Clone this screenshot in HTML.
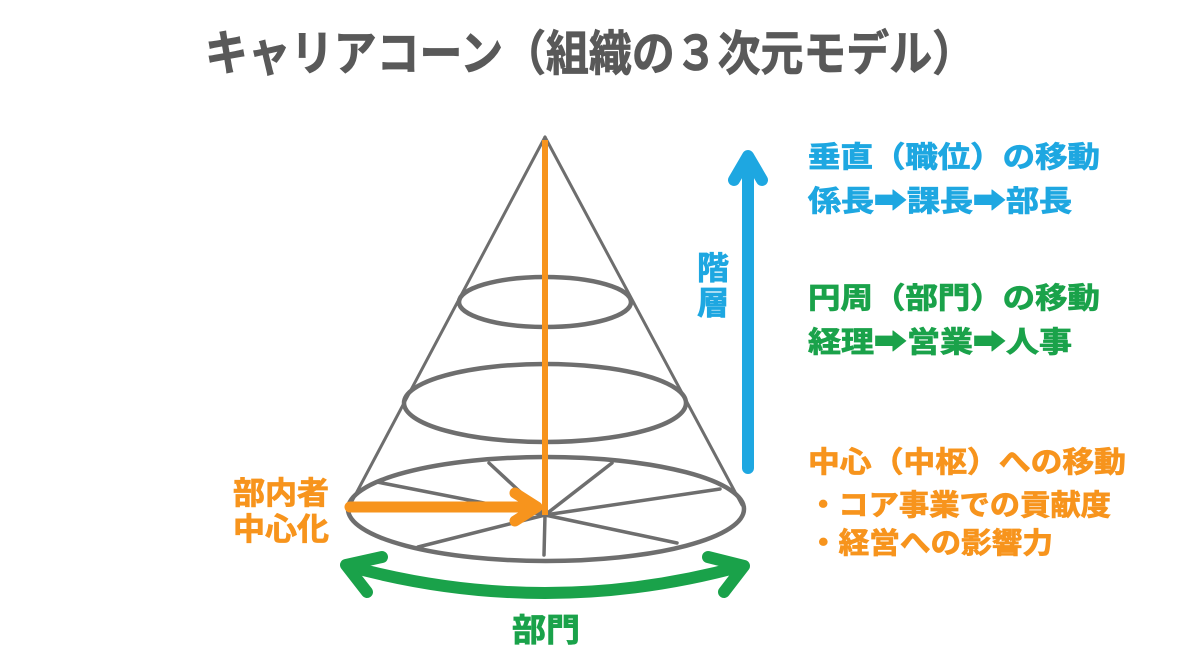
<!DOCTYPE html>
<html><head><meta charset="utf-8"><style>
html,body{margin:0;padding:0;background:#fff;width:1200px;height:666px;overflow:hidden}
svg text{font-family:"Liberation Sans","Noto Sans CJK JP",sans-serif;font-weight:bold;stroke-width:0.8}
</style></head><body>
<svg width="1200" height="666" viewBox="0 0 1200 666" xmlns="http://www.w3.org/2000/svg">
<text x="205" y="70" font-size="48" fill="#595959" stroke="#595959" stroke-width="1.2" textLength="770" lengthAdjust="spacingAndGlyphs">キャリアコーン（組織の３次元モデル）</text>

<g fill="none" stroke="#6e6e6e" stroke-linecap="round">
<line x1="545" y1="137" x2="350" y2="505" stroke-width="3"/>
<line x1="545" y1="137" x2="742" y2="505" stroke-width="3"/>
<ellipse cx="545" cy="302" rx="86" ry="25" stroke-width="4.5"/>
<ellipse cx="545" cy="403" rx="141" ry="39" stroke-width="4.5"/>
<ellipse cx="546" cy="509" rx="198" ry="52" stroke-width="4.5"/>
<g stroke-width="3.5">
<line x1="545" y1="515" x2="377" y2="482"/>
<line x1="545" y1="515" x2="489" y2="463"/>
<line x1="545" y1="515" x2="612" y2="463"/>
<line x1="545" y1="515" x2="720" y2="489"/>
<line x1="545" y1="515" x2="677" y2="543"/>
<line x1="545" y1="515" x2="544" y2="555"/>
<line x1="545" y1="515" x2="418" y2="547"/>
</g>
</g>

<line x1="545" y1="140" x2="545" y2="515" stroke="#f7941d" stroke-width="6"/>
<g stroke="#f7941d" stroke-width="11" stroke-linecap="round" fill="none" stroke-linejoin="round">
<line x1="350" y1="507" x2="535" y2="507"/>
<polyline points="515,493 537,507 515,521"/>
</g>

<g stroke="#1ea7e1" stroke-width="12" stroke-linecap="round" fill="none" stroke-linejoin="round">
<line x1="748" y1="468" x2="748" y2="158"/>
<polyline points="734,180 748,156 762,180"/>
</g>

<g stroke="#1aa24a" stroke-width="12" stroke-linecap="round" fill="none" stroke-linejoin="round">
<path d="M348,566 Q545,620 742,566"/>
<polyline points="382,557 346,565 367,592"/>
<polyline points="708,557 744,566 724,592"/>
</g>

<text x="697" y="279" font-size="32" fill="#1ea7e1" stroke="#1ea7e1">階</text>
<text x="697" y="314" font-size="32" fill="#1ea7e1" stroke="#1ea7e1">層</text>

<text x="233" y="504" font-size="31" fill="#f7941d" stroke="#f7941d" textLength="96" lengthAdjust="spacingAndGlyphs">部内者</text>
<text x="233" y="540" font-size="31" fill="#f7941d" stroke="#f7941d" textLength="96" lengthAdjust="spacingAndGlyphs">中心化</text>
<text x="512" y="641" font-size="32" fill="#1aa24a" stroke="#1aa24a" textLength="68" lengthAdjust="spacingAndGlyphs">部門</text>

<g font-size="29">
<text x="808" y="167" fill="#1ea7e1" stroke="#1ea7e1" textLength="292" lengthAdjust="spacingAndGlyphs">垂直（職位）の移動</text>
<text x="808" y="211" fill="#1ea7e1" stroke="#1ea7e1" textLength="264" lengthAdjust="spacingAndGlyphs">係長➡課長➡部長</text>
<text x="808" y="308" fill="#1aa24a" stroke="#1aa24a" textLength="292" lengthAdjust="spacingAndGlyphs">円周（部門）の移動</text>
<text x="808" y="352" fill="#1aa24a" stroke="#1aa24a" textLength="264" lengthAdjust="spacingAndGlyphs">経理➡営業➡人事</text>
<text x="808" y="472" fill="#f7941d" stroke="#f7941d" textLength="318" lengthAdjust="spacingAndGlyphs">中心（中枢）への移動</text>
<text x="808" y="515" fill="#f7941d" stroke="#f7941d" textLength="303" lengthAdjust="spacingAndGlyphs">・コア事業での貢献度</text>
<text x="808" y="553" fill="#f7941d" stroke="#f7941d" textLength="245" lengthAdjust="spacingAndGlyphs">・経営への影響力</text>
</g>
</svg>
</body></html>
